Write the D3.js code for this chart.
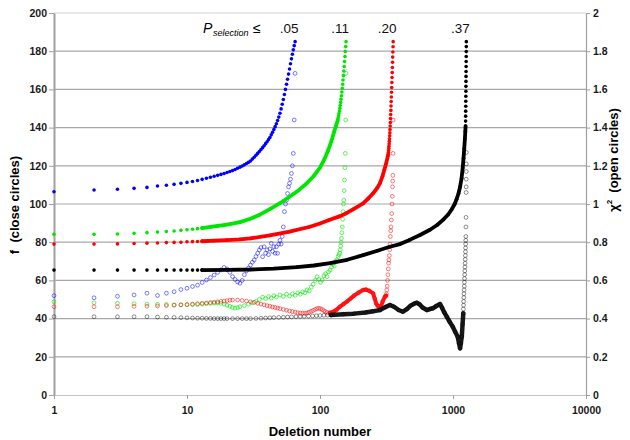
<!DOCTYPE html>
<html><head><meta charset="utf-8">
<script src="https://cdn.jsdelivr.net/npm/d3@7"></script>
<style>
body{margin:0;background:#fff;}
text{font-family:"Liberation Sans",Arial,sans-serif;}
</style>
</head><body>
<svg id="c" width="630" height="440"></svg>
<script>
// ---------- DATA (deletion number, value) ----------
const xTicks = [1, 10, 100, 1000, 10000];
const leftTicks = [0, 20, 40, 60, 80, 100, 120, 140, 160, 180, 200];
const rightTicks = [0, 0.2, 0.4, 0.6, 0.8, 1, 1.2, 1.4, 1.6, 1.8, 2];
const pLabels = [".05", ".11", ".20", ".37"];

// f (closed circles) — individually visible dots
const blueClosedDots = [[1,106.4],[2,107.3],[3,107.7],[4,108.2],[5,108.7],[6,109.4],[7,109.8],[8,110.3],[9,110.8],[10,111.3],[11,111.8],[12,112.3],[13,112.9],[14,113.5],[15,114.0],[16,114.5],[17,115.0],[18,115.5],[19,116.0],[20,116.5],[21,117.0],[22,117.5],[23,118.1],[24,118.7],[25,119.3],[26,119.9],[27,120.5],[28,121.2],[29,121.8],[30,122.5],[31,123.5],[32,124.5],[33,125.5],[34,126.5],[35,127.5],[36,128.5],[37,129.5],[38,130.5],[39,131.6],[40,132.6],[41,133.7],[42,134.8],[43,136.2],[44,137.6],[45,139.0],[46,140.5],[47,142.0],[48,143.7],[49,145.5],[50,147.5],[51,149.8],[52,152.2],[53,154.7],[54,157.3],[55,160.0],[56,162.7],[57,165.3],[58,168.0],[59,170.7],[60,173.4],[61,176.0],[62,178.4],[63,180.7],[64,182.9],[65,185.0]];
const blueClosedTrace = [];

const greenClosedDots = [[1,84.1],[2,84.1],[3,84.3],[4,84.7],[5,85.0],[6,85.3],[7,85.6],[8,85.9],[9,86.2],[10,86.5],[11,86.8],[12,87.1],[13,87.4],[137,145.1],[138,146.2],[139,147.4],[140,148.7],[141,150.1],[142,151.6],[143,153.2],[144,154.9],[145,156.7],[146,158.6],[147,160.6],[148,162.7],[149,164.9],[150,167.2],[151,169.6],[152,172.0],[153,174.6],[154,177.2],[155,179.8],[156,182.4],[157,185.0]];
const greenClosedTrace = [[13,87.4],[15,88.0],[17,88.5],[19,89.0],[21,89.5],[25,90.5],[30,92.3],[35,94.3],[42,97.3],[50,100.4],[59,103.8],[70,107.5],[80,111.0],[90,114.8],[100,119.0],[108,123.5],[115,128.0],[122,133.0],[128,138.0],[132,141.0],[136,144.0]];

const redClosedDots = [[1,79.0],[2,79.0],[3,79.1],[4,79.3],[5,79.5],[6,79.6],[7,79.8],[8,79.9],[9,80.0],[10,80.2],[11,80.3],[12,80.4],[13,80.5],[327,126.9],[328,128.0],[329,129.1],[330,130.3],[331,131.5],[332,132.8],[333,134.2],[334,135.7],[335,137.3],[336,139.0],[337,140.8],[338,142.7],[339,144.7],[340,146.8],[341,149.0],[342,151.3],[343,153.6],[344,156.0],[345,158.5],[346,161.0],[347,163.6],[348,166.2],[349,168.8],[350,171.5],[351,174.2],[352,176.9],[353,179.6],[354,182.3],[355,185.0]];
const redClosedTrace = [[13,80.5],[16,80.8],[20,81.1],[25,81.5],[30,82.0],[42,83.6],[59,85.5],[84,88.1],[100,89.8],[117,91.6],[140,93.5],[158,95.2],[180,97.5],[211,100.3],[230,102.8],[251,105.6],[270,108.5],[282,110.8],[295,114.5],[305,118.0],[315,121.5],[326,125.9]];

const blackClosedDots = [[1,65.4],[2,65.4],[3,65.4],[4,65.4],[5,65.4],[6,65.4],[7,65.4],[8,65.4],[9,65.4],[10,65.4],[11,65.4],[12,65.4],[13,65.4],[1244,143.4],[1245,146.0],[1246,148.6],[1247,151.2],[1248,153.8],[1249,156.4],[1250,159.0],[1251,161.6],[1252,164.2],[1253,166.8],[1254,169.4],[1255,172.0],[1256,174.6],[1257,177.2],[1258,179.8],[1259,182.4],[1260,185.0]];
const blackClosedTrace = [[13,65.4],[20,65.5],[30,65.7],[45,66.2],[67,67.0],[90,67.8],[119,69.0],[160,70.8],[211,73.2],[270,75.5],[335,77.6],[400,79.0],[472,81.2],[565,83.8],[672,86.5],[760,89.0],[845,91.8],[920,94.5],[974,97.0],[1030,100.0],[1064,102.5],[1100,105.5],[1130,109.0],[1160,113.5],[1183,119.0],[1200,124.0],[1215,129.0],[1228,134.0],[1238,138.0],[1243,140.8]];

// chi-square (open circles)
const blueOpenDots = [[1,.520],[2,.509],[3,.517],[4,.524],[5,.533],[6,.521],[7,.533],[8,.541],[9,.552],[10,.559],[11,.568],[12,.575],[13,.589],[14,.602],[15,.615],[16,.628],[17,.642],[18,.655],[19,.668],[20,.660],[21,.642],[22,.620],[23,.605],[24,.592],[25,.585],[26,.600],[27,.630],[28,.650],[29,.665],[30,.680],[31,.695],[32,.707],[33,.725],[34,.742],[35,.760],[36,.772],[37,.724],[38,.776],[39,.742],[40,.760],[41,.735],[42,.765],[43,.794],[44,.752],[45,.776],[46,.742],[47,.776],[48,.742],[49,.790],[50,.810],[51,.790],[52,.830],[53,.880],[54,.960],[55,1.000],[56,1.020],[57,1.055],[58,1.090],[59,1.108],[60,1.130],[61,1.160],[62,1.200],[63,1.265],[64,1.440],[65,1.684]];
const blueOpenTrace = [];

const greenOpenDots = [[1,.488],[2,.483],[3,.480],[4,.478],[5,.476],[6,.475],[7,.474],[8,.472],[9,.472],[10,.472],[11,.473],[12,.474],[13,.476],[14,.478],[15,.480],[16,.481],[17,.482],[18,.480],[19,.476],[20,.470],[21,.464],[22,.458],[23,.455],[24,.458],[25,.462],[27,.468],[29,.476],[31,.482],[33,.490],[35,.500],[37,.512],[39,.505],[41,.515],[43,.508],[45,.520],[47,.512],[50,.524],[53,.516],[56,.528],[59,.518],[62,.530],[65,.522],[68,.535],[71,.528],[74,.540],[77,.535],[80,.550],[83,.545],[86,.565],[89,.580],[92,.600],[95,.619],[98,.605],[101,.590],[104,.602],[107,.625],[110,.635],[113,.620],[116,.645],[119,.654],[122,.670],[125,.685],[128,.675],[131,.700],[134,.707],[137,.725],[139,.735],[141,.743],[142,.760],[143,.780],[144,.800],[145,.820],[146,.850],[147,.880],[148,.920],[149,.960],[150,1.000],[151,1.020],[152,1.070],[153,1.126],[154,1.190],[155,1.265],[156,1.440],[157,1.684]];
const greenOpenTrace = [];

const redOpenDots = [[1,.462],[2,.462],[3,.462],[4,.464],[5,.465],[6,.466],[7,.468],[8,.470],[9,.472],[10,.474],[11,.476],[12,.478],[13,.480],[14,.482],[15,.484],[16,.486],[17,.488],[18,.490],[19,.492],[20,.494],[21,.496],[22,.497],[24,.497],[26,.495],[28,.492],[30,.488],[32,.485],[34,.480],[36,.476],[38,.472],[40,.468],[42,.465],[44,.461],[46,.458],[48,.455],[50,.452],[53,.448],[56,.444],[59,.440],[62,.437],[65,.434],[68,.431],[71,.429],[74,.428],[77,.428],[80,.430],[83,.434],[86,.438],[89,.443],[92,.448],[95,.452],[98,.454],[101,.452],[104,.447],[107,.441],[110,.436],[114,.432],[119,.430],[316,.530],[318,.550],[320,.570],[322,.600],[324,.630],[326,.660],[328,.690],[330,.707],[332,.730],[334,.760],[336,.790],[338,.830],[340,.860],[342,.880],[344,.916],[346,.950],[348,1.000],[350,1.040],[351,1.090],[352,1.120],[353,1.150],[354,1.265],[355,1.440]];
const redOpenTrace = [[119,.430],[126,.436],[133,.446],[141,.462],[150,.476],[160,.490],[170,.505],[180,.520],[194,.535],[211,.550],[222,.552],[235,.545],[251,.532],[258,.505],[264,.480],[272,.466],[287,.462],[296,.490],[308,.515],[314,.520]];

const blackOpenDots = [[1,.410],[2,.410],[3,.410],[4,.410],[5,.410],[6,.408],[7,.407],[8,.406],[9,.405],[10,.404],[11,.403],[12,.402],[13,.402],[14,.401],[15,.401],[16,.400],[17,.400],[18,.400],[19,.400],[20,.400],[22,.400],[24,.400],[26,.400],[28,.400],[30,.400],[33,.401],[36,.402],[39,.403],[42,.404],[45,.405],[49,.406],[53,.407],[57,.408],[61,.409],[66,.410],[71,.411],[76,.412],[82,.413],[88,.414],[94,.415],[100,.416],[107,.417],[114,.418],[121,.419],[1197,.450],[1200,.470],[1203,.490],[1206,.510],[1209,.530],[1212,.550],[1215,.570],[1218,.590],[1221,.610],[1224,.630],[1227,.650],[1230,.670],[1233,.690],[1236,.710],[1239,.730],[1241,.750],[1243,.770],[1245,.790],[1247,.810],[1249,.830],[1251,.880],[1253,.930],[1255,1.060],[1256,1.090],[1257,1.130],[1258,1.170],[1259,1.210],[1260,1.270]];
const blackOpenTrace = [[121,.419],[150,.423],[180,.426],[220,.432],[250,.438],[283,.445],[310,.460],[336,.471],[360,.462],[390,.445],[420,.436],[450,.450],[480,.468],[510,.478],[533,.483],[560,.475],[590,.458],[636,.445],[670,.450],[705,.454],[750,.466],[799,.476],[830,.455],[860,.432],[897,.410],[940,.385],[995,.358],[1040,.330],[1085,.305],[1110,.270],[1130,.244],[1145,.270],[1164,.305],[1180,.370],[1195,.428]];

const seriesColors = ["#0000ff", "#00e600", "#ff0000", "#000000"];

// ---------- CHART ----------
const svg = d3.select("#c");
const x = d3.scaleLog().domain([1, 10000]).range([54, 586]);
const yL = d3.scaleLinear().domain([0, 200]).range([395, 13]);
const yR = d3.scaleLinear().domain([0, 2]).range([395, 13]);

// gridlines
svg.append("g").selectAll("line").data(leftTicks.filter(d => d > 0)).join("line")
  .attr("x1", 54).attr("x2", 586)
  .attr("y1", d => yL(d)).attr("y2", d => yL(d))
  .attr("stroke", d => d === 200 ? "#d4d4d4" : "#a8a8a8")
  .attr("stroke-width", 1.2);

function styleAxis(g, domainColor, domainWidth) {
  g.select(".domain").attr("stroke", domainColor).attr("stroke-width", domainWidth);
  g.selectAll(".tick line").attr("stroke", "#a0a0a0");
  g.selectAll(".tick text").attr("font-size", "10.5px").attr("font-weight", "bold").attr("fill", "#1a1a1a");
}

const gB = svg.append("g").attr("transform", "translate(0,395)")
  .call(d3.axisBottom(x).tickValues(xTicks).tickFormat(d => String(d)).tickSize(4).tickSizeOuter(0).tickPadding(8));
styleAxis(gB, "#c4c4c4", 1.2);

const gL = svg.append("g").attr("transform", "translate(54,0)")
  .call(d3.axisLeft(yL).tickValues(leftTicks).tickSize(5).tickSizeOuter(0).tickPadding(2));
styleAxis(gL, "#a0a0a0", 2);

const gR = svg.append("g").attr("transform", "translate(586,0)")
  .call(d3.axisRight(yR).tickValues(rightTicks).tickFormat(d3.format("~g")).tickSize(4).tickSizeOuter(0).tickPadding(3));
styleAxis(gR, "#a0a0a0", 1.2);

const lineL = d3.line().x(d => x(d[0])).y(d => yL(d[1]));
const lineR = d3.line().x(d => x(d[0])).y(d => yR(d[1]));

function drawOpen(dots, trace, color, op, tw) {
  const g = svg.append("g");
  if (trace.length) {
    g.append("path").attr("d", lineR(trace)).attr("fill", "none")
      .attr("stroke", color).attr("stroke-width", tw).attr("stroke-opacity", 0.9)
      .attr("stroke-linejoin", "round").attr("stroke-linecap", "round");
  }
  g.selectAll("circle").data(dots.concat(trace)).join("circle")
    .attr("cx", d => x(d[0])).attr("cy", d => yR(d[1])).attr("r", 1.9)
    .attr("fill", "none").attr("stroke", color).attr("stroke-width", 0.8).attr("stroke-opacity", op);
}
function drawClosed(dots, trace, color) {
  const g = svg.append("g");
  if (trace.length) {
    g.append("path").attr("d", lineL(trace)).attr("fill", "none")
      .attr("stroke", color).attr("stroke-width", 3.8)
      .attr("stroke-linejoin", "round").attr("stroke-linecap", "round");
  }
  g.selectAll("circle").data(dots.concat(trace)).join("circle")
    .attr("cx", d => x(d[0])).attr("cy", d => yL(d[1])).attr("r", 1.8)
    .attr("fill", color);
}

drawOpen(blueOpenDots, blueOpenTrace, seriesColors[0], 0.65, 4);
drawOpen(greenOpenDots, greenOpenTrace, seriesColors[1], 0.75, 4);
drawOpen(redOpenDots, redOpenTrace, seriesColors[2], 0.65, 4);
drawOpen(blackOpenDots, blackOpenTrace, seriesColors[3], 0.55, 4.5);

drawClosed(blueClosedDots, blueClosedTrace, seriesColors[0]);
drawClosed(greenClosedDots, greenClosedTrace, seriesColors[1]);
drawClosed(redClosedDots, redClosedTrace, seriesColors[2]);
drawClosed(blackClosedDots, blackClosedTrace, seriesColors[3]);

// P selection labels above each curve end
const seriesEnds = [blueClosedDots, greenClosedDots, redClosedDots, blackClosedDots].map(a => a[a.length - 1][0]);
svg.append("text").attr("x", 203).attr("y", 33).attr("font-size", "14px").attr("font-style", "italic").text("P");
svg.append("text").attr("x", 213).attr("y", 36).attr("font-size", "9px").attr("font-style", "italic").text("selection");
svg.append("text").attr("x", 253).attr("y", 33).attr("font-size", "14px").text("≤");
svg.append("g").selectAll("text").data(pLabels).join("text")
  .attr("x", (d, i) => x(seriesEnds[i]) - 6).attr("y", 33)
  .attr("text-anchor", "middle").attr("font-size", "13.5px").attr("fill", "#111")
  .text(d => d);

// axis titles
svg.append("text").attr("x", 320).attr("y", 436).attr("text-anchor", "middle")
  .attr("font-size", "13px").attr("font-weight", "bold").text("Deletion number");
svg.append("text").attr("transform", "translate(19,205) rotate(-90)").attr("text-anchor", "middle")
  .attr("font-size", "13px").attr("font-weight", "bold").style("white-space", "pre").text("f  (close circles)");
const rt = svg.append("text").attr("transform", "translate(618,160) rotate(-90)").attr("text-anchor", "middle")
  .attr("font-size", "13px").attr("font-weight", "bold").style("white-space", "pre");
rt.append("tspan").text("χ");
rt.append("tspan").attr("font-size", "8px").attr("dy", -6).text("2");
rt.append("tspan").attr("dy", 6).text("  (open circles)");
</script>
</body></html>
